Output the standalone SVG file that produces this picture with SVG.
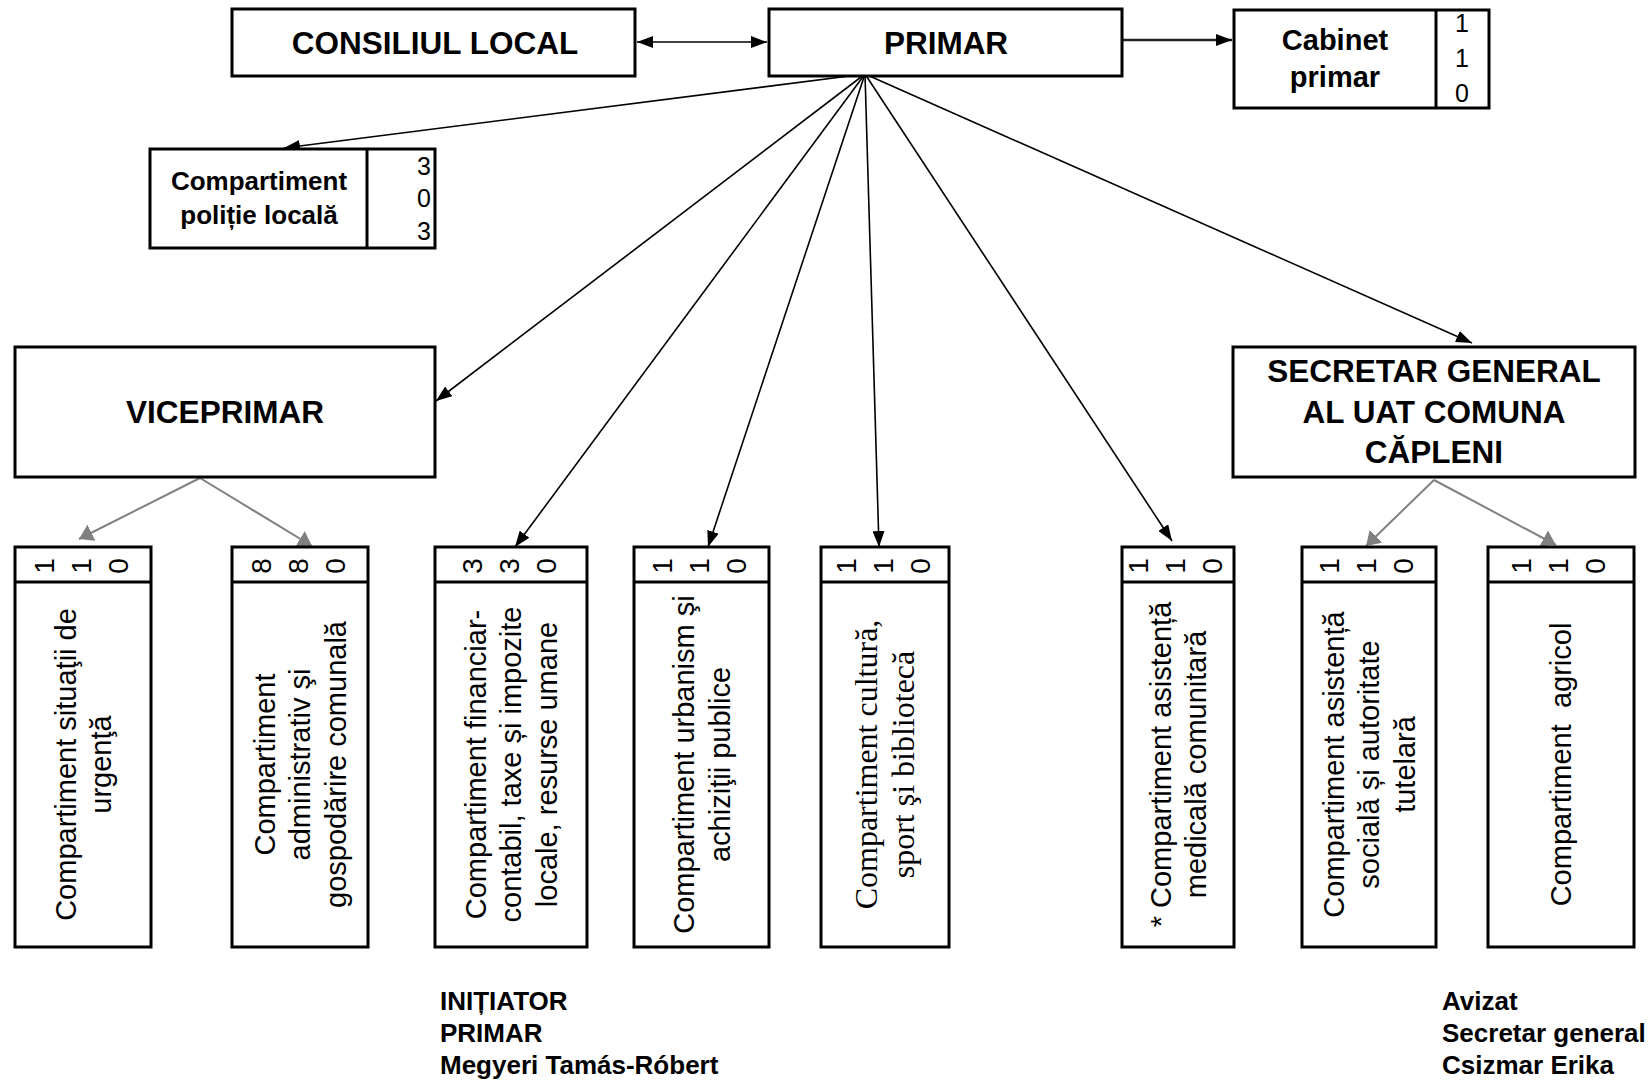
<svg xmlns="http://www.w3.org/2000/svg" width="1650" height="1083" viewBox="0 0 1650 1083">
<style>
.box{fill:#fff;stroke:#000;stroke-width:3}
.ln{stroke:#000;stroke-width:3}
.hd{font-family:"Liberation Sans",Arial,sans-serif;font-weight:bold;font-size:31.5px;fill:#000;text-anchor:middle}
.sm{font-family:"Liberation Sans",Arial,sans-serif;font-weight:bold;fill:#000;text-anchor:middle}
.dg{font-family:"Liberation Sans",Arial,sans-serif;font-size:25px;fill:#000}
.bd{font-family:"Liberation Sans",Arial,sans-serif;font-size:29px;fill:#000;text-anchor:middle}
.sf{font-family:"Liberation Serif","Times New Roman",serif;font-size:32px;fill:#000;text-anchor:middle}
.hn{font-family:"Liberation Sans",Arial,sans-serif;font-size:28px;fill:#000;text-anchor:middle}
.ft{font-family:"Liberation Sans",Arial,sans-serif;font-weight:bold;font-size:26px;fill:#000}
.ca{fill:none;stroke:#000;stroke-width:1.6}
.cg{fill:none;stroke:#808080;stroke-width:2}
</style>
<defs>
<marker id="ah" markerUnits="userSpaceOnUse" markerWidth="16" markerHeight="12" refX="16" refY="6" orient="auto-start-reverse">
<path d="M0,0 L16,6 L0,12 z" fill="#000"/>
</marker>
<marker id="ag" markerUnits="userSpaceOnUse" markerWidth="14" markerHeight="18" refX="14" refY="9" orient="auto">
<path d="M0,0 L14,9 L0,18 z" fill="#808080"/>
</marker>
</defs>

<g id="connectors">
<line class="ca" x1="637" y1="42" x2="767" y2="42" marker-start="url(#ah)" marker-end="url(#ah)"/>
<line x1="1121" y1="40" x2="1232" y2="40" stroke="#222" stroke-width="2.5" marker-end="url(#ah)"/>
<line class="ca" x1="865" y1="74" x2="284" y2="148" marker-end="url(#ah)"/>
<line class="ca" x1="865" y1="74" x2="436" y2="401" marker-end="url(#ah)"/>
<line class="ca" x1="865" y1="74" x2="515" y2="547" marker-end="url(#ah)"/>
<line class="ca" x1="865" y1="74" x2="708" y2="547" marker-end="url(#ah)"/>
<line class="ca" x1="865" y1="74" x2="879" y2="547" marker-end="url(#ah)"/>
<line class="ca" x1="865" y1="74" x2="1172" y2="541" marker-end="url(#ah)"/>
<line class="ca" x1="865" y1="74" x2="1472" y2="343" marker-end="url(#ah)"/>
<line class="cg" x1="200" y1="478" x2="79" y2="539" marker-end="url(#ag)"/>
<line class="cg" x1="200" y1="478" x2="312" y2="546" marker-end="url(#ag)"/>
<line class="cg" x1="1434" y1="480" x2="1366" y2="546" marker-end="url(#ag)"/>
<line class="cg" x1="1434" y1="480" x2="1556" y2="545" marker-end="url(#ag)"/>
</g>

<g id="consiliul-local">
<rect class="box" x="232" y="9" width="403" height="67"/>
<text class="hd" x="435" y="53.5">CONSILIUL LOCAL</text>
</g>

<g id="primar">
<rect class="box" x="769" y="9" width="353" height="67"/>
<text class="hd" x="946" y="53.5">PRIMAR</text>
</g>

<g id="cabinet-primar">
<rect class="box" x="1234" y="10" width="255" height="98"/>
<line class="ln" x1="1436" y1="10" x2="1436" y2="108"/>
<text class="sm" font-size="29" x="1335" y="50">Cabinet</text>
<text class="sm" font-size="29" x="1335" y="87">primar</text>
<text class="dg" text-anchor="middle" x="1462" y="32">1</text>
<text class="dg" text-anchor="middle" x="1462" y="67">1</text>
<text class="dg" text-anchor="middle" x="1462" y="102">0</text>
</g>

<g id="politie-locala">
<rect class="box" x="150" y="149" width="285" height="99"/>
<line class="ln" x1="367" y1="149" x2="367" y2="248"/>
<text class="sm" font-size="26" x="259" y="190">Compartiment</text>
<text class="sm" font-size="26" x="259" y="224">poliție locală</text>
<text class="dg" text-anchor="end" x="431" y="175">3</text>
<text class="dg" text-anchor="end" x="431" y="207">0</text>
<text class="dg" text-anchor="end" x="431" y="240">3</text>
</g>

<g id="viceprimar">
<rect class="box" x="15" y="347" width="420" height="130"/>
<text class="hd" x="225" y="422.5">VICEPRIMAR</text>
</g>

<g id="secretar-general">
<rect class="box" x="1233" y="347" width="402" height="130"/>
<text class="hd" x="1434" y="382">SECRETAR GENERAL</text>
<text class="hd" x="1434" y="422.5">AL UAT COMUNA</text>
<text class="hd" x="1434" y="463">CĂPLENI</text>
</g>

<g id="situatii-urgenta">
<rect class="box" x="15" y="547" width="136" height="400"/>
<line class="ln" x1="15" y1="582" x2="151" y2="582"/>
<text class="hn" transform="translate(81,566) rotate(-90)"><tspan x="0" y="-26.9">1</tspan><tspan x="0" y="10.1">1</tspan><tspan x="0" y="47.1">0</tspan></text>
<text class="bd" transform="translate(83,764.5) rotate(-90)"><tspan x="0" y="-7.35">Compartiment situaţii de</tspan><tspan x="0" y="28.15">urgenţă</tspan></text>
</g>

<g id="administrativ">
<rect class="box" x="232" y="547" width="136" height="400"/>
<line class="ln" x1="232" y1="582" x2="368" y2="582"/>
<text class="hn" transform="translate(298,566) rotate(-90)"><tspan x="0" y="-26.9">8</tspan><tspan x="0" y="10.1">8</tspan><tspan x="0" y="47.1">0</tspan></text>
<text class="bd" transform="translate(300,764.5) rotate(-90)"><tspan x="0" y="-25.1">Compartiment</tspan><tspan x="0" y="10.4">administrativ şi</tspan><tspan x="0" y="45.9">gospodărire comunală</tspan></text>
</g>

<g id="financiar">
<rect class="box" x="435" y="547" width="152" height="400"/>
<line class="ln" x1="435" y1="582" x2="587" y2="582"/>
<text class="hn" transform="translate(509,566) rotate(-90)"><tspan x="0" y="-26.9">3</tspan><tspan x="0" y="10.1">3</tspan><tspan x="0" y="47.1">0</tspan></text>
<text class="bd" transform="translate(511,764.5) rotate(-90)"><tspan x="0" y="-25.1">Compartiment financiar-</tspan><tspan x="0" y="10.4">contabil, taxe și impozite</tspan><tspan x="0" y="45.9">locale, resurse umane</tspan></text>
</g>

<g id="urbanism">
<rect class="box" x="634" y="547" width="135" height="400"/>
<line class="ln" x1="634" y1="582" x2="769" y2="582"/>
<text class="hn" transform="translate(699,566) rotate(-90)"><tspan x="0" y="-26.9">1</tspan><tspan x="0" y="10.1">1</tspan><tspan x="0" y="47.1">0</tspan></text>
<text class="bd" transform="translate(701.5,764.5) rotate(-90)"><tspan x="0" y="-7.35">Compartiment urbanism şi</tspan><tspan x="0" y="28.15">achiziţii publice</tspan></text>
</g>

<g id="cultura">
<rect class="box" x="821" y="547" width="128" height="400"/>
<line class="ln" x1="821" y1="582" x2="949" y2="582"/>
<text class="hn" transform="translate(883,566) rotate(-90)"><tspan x="0" y="-26.9">1</tspan><tspan x="0" y="10.1">1</tspan><tspan x="0" y="47.1">0</tspan></text>
<text class="sf" transform="translate(885,764.5) rotate(-90)"><tspan x="0" y="-7.9">Compartiment cultură,</tspan><tspan x="0" y="29.1">sport şi bibliotecă</tspan></text>
</g>

<g id="asistenta-medicala">
<rect class="box" x="1122" y="547" width="112" height="400"/>
<line class="ln" x1="1122" y1="582" x2="1234" y2="582"/>
<text class="hn" transform="translate(1175,566) rotate(-90)"><tspan x="0" y="-26.9">1</tspan><tspan x="0" y="10.1">1</tspan><tspan x="0" y="47.1">0</tspan></text>
<text class="bd" transform="translate(1178,764.5) rotate(-90)"><tspan x="0" y="-7.35">* Compartiment asistență</tspan><tspan x="0" y="28.15">medicală comunitară</tspan></text>
</g>

<g id="asistenta-sociala">
<rect class="box" x="1302" y="547" width="134" height="400"/>
<line class="ln" x1="1302" y1="582" x2="1436" y2="582"/>
<text class="hn" transform="translate(1366,566) rotate(-90)"><tspan x="0" y="-26.9">1</tspan><tspan x="0" y="10.1">1</tspan><tspan x="0" y="47.1">0</tspan></text>
<text class="bd" transform="translate(1369,764.5) rotate(-90)"><tspan x="0" y="-25.1">Compartiment asistență</tspan><tspan x="0" y="10.4">socială și autoritate</tspan><tspan x="0" y="45.9">tutelară</tspan></text>
</g>

<g id="agricol">
<rect class="box" x="1488" y="547" width="146" height="400"/>
<line class="ln" x1="1488" y1="582" x2="1634" y2="582"/>
<text class="hn" transform="translate(1558,566) rotate(-90)"><tspan x="0" y="-26.9">1</tspan><tspan x="0" y="10.1">1</tspan><tspan x="0" y="47.1">0</tspan></text>
<text class="bd" xml:space="preserve" transform="translate(1561,764.5) rotate(-90)"><tspan x="0" y="10.4">Compartiment  agricol</tspan></text>
</g>

<g id="initiator">
<text class="ft" x="440" y="1010">INIȚIATOR</text>
<text class="ft" x="440" y="1042">PRIMAR</text>
<text class="ft" x="440" y="1074">Megyeri Tamás-Róbert</text>
</g>

<g id="avizat">
<text class="ft" x="1442" y="1010">Avizat</text>
<text class="ft" x="1442" y="1042">Secretar general</text>
<text class="ft" x="1442" y="1074">Csizmar Erika</text>
</g>
</svg>
